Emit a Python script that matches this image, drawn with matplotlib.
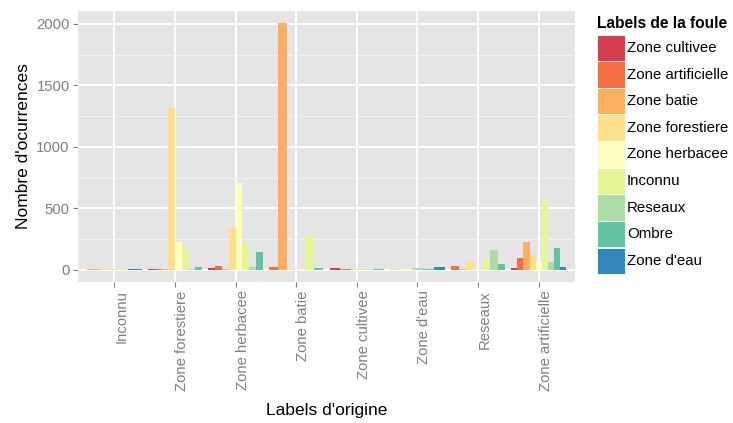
import matplotlib
matplotlib.use("Agg")
import matplotlib.pyplot as plt
import matplotlib.transforms as mtransforms
from matplotlib.patches import Rectangle

plt.rcParams['font.family'] = ['Liberation Sans', 'DejaVu Sans']

# x categories (labels d'origine)
origine = ["Inconnu", "Zone forestiere", "Zone herbacee", "Zone batie",
           "Zone cultivee", "Zone d'eau", "Reseaux", "Zone artificielle"]

# fill categories (labels de la foule), legend order
foule = ["Zone cultivee", "Zone artificielle", "Zone batie", "Zone forestiere",
         "Zone herbacee", "Inconnu", "Reseaux", "Ombre", "Zone d'eau"]
couleurs = ["#D53E4F", "#F46D43", "#FDAE61", "#FEE08B", "#FFFFBF",
            "#E6F598", "#ABDDA4", "#66C2A5", "#3288BD"]

# counts per crowd label, one value per origin category (None = absent)
zone_cultivee     = [None, 5, 12, None, 12, None, None, 12]
zone_artificielle = [None, 5, 28, 20, 5, None, 28, 94]
zone_batie        = [5, 5, 4, 2005, None, None, 4, 224]
zone_forestiere   = [5, 1318, 346, 3, 3, 3, 61, 118]
zone_herbacee     = [None, 224, 705, 2, None, 2, 2, 69]
inconnu           = [5, 183, 210, 281, 3, None, 86, 574]
reseaux           = [None, 7, 20, None, None, 12, 159, 61]
ombre             = [None, 20, 145, 12, 3, 4, 45, 175]
zone_eau          = [8, None, None, None, None, 20, None, 20]

series = [zone_cultivee, zone_artificielle, zone_batie, zone_forestiere,
          zone_herbacee, inconnu, reseaux, ombre, zone_eau]

W, H = 733, 423
fig = plt.figure(figsize=(W / 100, H / 100), dpi=100)
ax = fig.add_axes([78 / W, 1 - 282 / H, (575 - 78) / W, (282 - 11) / H])
ax.set_facecolor("#E5E5E5")

# dodge like ggplot: bars share the 0.9 width among the groups present
for i in range(len(origine)):
    present = [k for k in range(len(series)) if series[k][i] is not None]
    w = 0.9 / len(present)
    for j, k in enumerate(present):
        ax.bar(i + 1 - 0.45 + j * w, series[k][i], width=w, align="edge",
               color=couleurs[k], linewidth=0, zorder=3)

ax.set_xlim(0.4, len(origine) + 0.6)
ax.set_ylim(-100.25, 2105.25)

# grid
for y in [250, 750, 1250, 1750]:
    ax.axhline(y, color="#F2F2F2", lw=0.8, zorder=1)
for y in [0, 500, 1000, 1500, 2000]:
    ax.axhline(y, color="white", lw=1.4, zorder=2)
for x in range(1, len(origine) + 1):
    ax.axvline(x, color="white", lw=1.4, zorder=2)

for s in ax.spines.values():
    s.set_visible(False)

ax.set_yticks([0, 500, 1000, 1500, 2000])
ax.set_yticklabels(["0", "500", "1000", "1500", "2000"])
ax.set_xticks(range(1, len(origine) + 1))
ax.set_xticklabels(origine, rotation=90, ha="left", va="top")
offset = mtransforms.ScaledTranslation(-5 / 100, 0, fig.dpi_scale_trans)
for lab in ax.get_xticklabels():
    lab.set_transform(lab.get_transform() + offset)
ax.tick_params(axis="both", colors="#7F7F7F", labelsize=10.7, length=3.5,
               width=0.8, pad=2.5)

ax.set_ylabel("Nombre d'ocurrences", fontsize=12.5, labelpad=4)
ax.set_xlabel("Labels d'origine", fontsize=12.5, labelpad=9)

# legend
fig.text(597 / W, 1 - 23 / H, "Labels de la foule", fontsize=11.2,
         fontweight="bold", ha="left", va="center")
key_top, key_h = 34.7, 26.6
for k, name in enumerate(foule):
    y0 = key_top + k * key_h
    fig.patches.append(Rectangle((597 / W, 1 - (y0 + key_h) / H), 27.5 / W,
                                 key_h / H, transform=fig.transFigure,
                                 facecolor=couleurs[k], edgecolor="white",
                                 lw=0.6))
    fig.text(627 / W, 1 - (y0 + key_h / 2) / H, name, fontsize=10.8,
             ha="left", va="center")

fig.savefig("out.png", dpi=100)
